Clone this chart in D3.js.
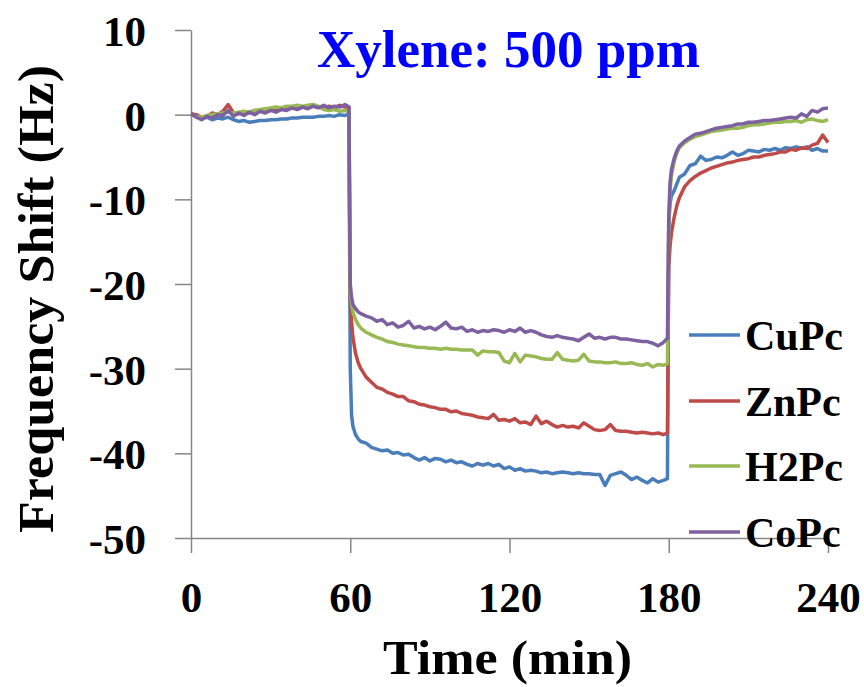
<!DOCTYPE html>
<html>
<head>
<meta charset="utf-8">
<script src="https://cdn.jsdelivr.net/npm/d3@7"></script>
<style>
  html, body { margin: 0; padding: 0; background: #ffffff; }
  svg { display: block; }
  text { font-family: "Liberation Serif", "Times New Roman", serif; font-weight: bold; }
</style>
</head>
<body>
<svg id="chart" width="864" height="687"></svg>
<script>
// ---------------- DATA ----------------
const times = [
  0,2,4,6,8,10,12,14,16,18,20,22,24,26,28,30,32,34,36,38,40,42,44,46,48,50,52,54,56,58,59.5,
  60,60.5,61,62,63,64,66,68,70,72,74,76,78,80,82,84,86,88,90,92,94,96,98,100,102,104,106,108,110,
  112,114,116,118,120,122,124,126,128,130,132,134,136,138,140,142,144,146,148,150,152,154,156,158,
  160,162,164,166,168,170,172,174,176,178,179.5,
  180,180.5,181,182,183,184,186,188,190,192,194,196,198,200,202,204,206,208,210,212,214,216,218,220,
  222,224,226,228,230,232,234,236,238,240
];

const cuPc = [
  0.1,-0.2,-0.4,-0.3,-0.6,-0.4,-0.5,-0.3,-0.6,-0.8,-0.7,-0.9,-0.8,-0.7,-0.7,-0.6,-0.6,-0.5,-0.5,-0.4,-0.4,-0.3,-0.3,-0.3,-0.2,-0.2,-0.1,-0.2,0.0,-0.1,0.1,
  -30.0,-35.5,-36.8,-37.8,-38.3,-38.6,-38.8,-39.3,-39.5,-39.7,-39.6,-40.0,-39.9,-40.2,-40.1,-40.5,-40.8,-40.5,-40.9,-40.6,-40.7,-41.0,-40.8,-41.1,-41.0,-41.3,-41.5,-41.2,-41.4,
  -41.2,-41.5,-41.3,-41.8,-41.6,-42.0,-41.8,-42.1,-42.0,-42.1,-42.3,-42.2,-42.4,-42.3,-42.2,-42.3,-42.4,-42.3,-42.4,-42.4,-42.5,-42.5,-43.8,-42.6,
  -42.4,-42.2,-42.6,-43.1,-42.8,-43.2,-43.5,-43.0,-43.4,-43.2,-43.0,
  -13.0,-10.5,-9.6,-9.0,-8.2,-7.4,-7.0,-6.0,-5.8,-4.9,-5.4,-5.3,-5.0,-5.1,-4.8,-4.4,-4.8,-4.6,-4.2,-4.3,-4.4,-4.1,-4.2,-4.0,
  -4.2,-3.9,-4.0,-3.8,-4.0,-3.8,-4.2,-4.0,-4.3,-4.3
];

const znPc = [
  0.1,0.0,-0.3,-0.2,0.2,0.0,0.4,1.2,0.2,0.1,0.3,0.2,0.5,0.4,0.3,0.6,0.5,0.7,0.6,0.8,0.7,0.9,0.8,1.0,0.9,0.8,1.0,0.8,1.1,0.9,0.9,
  -22.0,-24.5,-26.3,-28.2,-29.3,-30.0,-31.0,-31.6,-32.2,-32.4,-32.8,-33.0,-33.3,-33.3,-33.8,-33.9,-34.2,-34.3,-34.5,-34.6,-34.8,-34.8,-35.1,-35.0,-35.3,-35.4,-35.5,-35.7,-35.8,
  -35.9,-35.4,-36.1,-36.0,-36.2,-35.9,-36.4,-36.3,-36.6,-35.6,-36.5,-36.2,-36.6,-36.9,-36.7,-36.9,-36.8,-37.0,-36.4,-36.8,-37.2,-37.3,-37.2,-36.6,
  -37.3,-37.4,-37.4,-37.5,-37.6,-37.5,-37.6,-37.7,-37.6,-37.8,-37.6,
  -18.0,-15.5,-14.0,-12.2,-10.8,-9.8,-8.5,-7.8,-7.3,-6.9,-6.6,-6.3,-6.1,-5.9,-5.7,-5.6,-5.4,-5.3,-5.2,-5.0,-5.0,-4.8,-4.7,-4.6,
  -4.4,-4.4,-4.1,-4.2,-3.9,-4.0,-3.6,-3.4,-2.4,-3.3
];

const h2Pc = [
  0.0,-0.2,-0.3,-0.1,0.0,0.1,0.2,0.3,0.2,0.3,0.4,0.3,0.5,0.6,0.7,0.8,0.9,0.8,1.0,1.0,1.1,1.0,1.1,1.2,1.0,0.6,0.5,0.6,0.4,0.5,0.4,
  -21.0,-22.3,-23.3,-24.2,-24.8,-25.2,-25.7,-26.0,-26.3,-26.5,-26.8,-26.9,-27.1,-27.2,-27.3,-27.4,-27.5,-27.5,-27.6,-27.6,-27.7,-27.6,-27.7,-27.7,-27.8,-27.8,-27.8,-28.4,-27.9,
  -28.0,-28.0,-28.1,-29.1,-29.3,-28.2,-29.2,-28.4,-28.5,-28.6,-28.8,-28.9,-28.9,-28.1,-28.9,-29.0,-29.1,-29.0,-28.3,-29.1,-29.2,-29.2,-29.3,-29.3,
  -29.2,-29.4,-29.4,-29.3,-29.5,-29.6,-29.4,-29.8,-29.5,-29.6,-29.4,
  -13.0,-9.0,-7.2,-5.6,-4.6,-3.9,-3.3,-2.9,-2.6,-2.4,-2.2,-2.0,-1.9,-1.8,-1.7,-1.6,-1.6,-1.5,-1.3,-1.2,-1.2,-1.1,-1.0,-0.9,
  -0.9,-0.8,-0.8,-0.7,-0.9,-0.6,-0.5,-0.7,-0.8,-0.6
];

const coPc = [
  0.1,-0.3,-0.6,-0.2,-0.4,0.0,-0.1,0.5,-0.2,0.2,-0.1,0.3,0.0,0.4,0.2,0.5,0.3,0.6,0.5,0.8,0.6,0.9,0.7,1.0,0.8,1.1,0.8,1.0,0.9,1.2,0.9,
  -20.0,-21.6,-22.4,-22.9,-23.3,-23.5,-23.8,-24.0,-24.4,-24.2,-24.8,-24.6,-25.1,-24.9,-24.4,-25.2,-25.0,-25.3,-25.1,-25.4,-25.0,-24.5,-25.2,-25.3,-25.1,-25.6,-25.4,-25.7,-25.5,
  -25.6,-25.4,-25.5,-25.7,-25.4,-25.6,-25.2,-25.7,-25.5,-25.7,-26.0,-26.2,-26.3,-26.1,-26.3,-26.4,-26.5,-26.7,-26.3,-25.9,-26.4,-26.3,-26.5,-26.3,
  -26.3,-26.5,-26.5,-26.6,-26.7,-26.8,-26.8,-27.0,-27.3,-26.9,-26.4,
  -12.0,-8.0,-6.5,-5.2,-4.3,-3.7,-3.1,-2.7,-2.3,-2.2,-2.0,-1.8,-1.6,-1.5,-1.4,-1.3,-1.1,-1.1,-0.9,-0.9,-0.8,-0.7,-0.7,-0.6,
  -0.5,-0.4,-0.3,-0.4,0.1,-0.2,0.5,0.3,0.7,0.8
];

const seriesNames = ["CuPc", "ZnPc", "H2Pc", "CoPc"];
const seriesColors = ["#4A7EBB", "#BE4B48", "#98B954", "#7D60A0"];
const xTicks = [0, 60, 120, 180, 240];
const yTicks = [10, 0, -10, -20, -30, -40, -50];
const titleText = "Xylene: 500 ppm";
const xTitle = "Time (min)";
const yTitle = "Frequency Shift (Hz)";

// ---------------- CHART ----------------
const svg = d3.select("#chart");
const x = d3.scaleLinear().domain([0, 240]).range([191, 828]);
const y = d3.scaleLinear().domain([-50, 10]).range([538, 30]);
const axisColor = "#868686";

// Y axis
const yAxis = svg.append("g").attr("transform", "translate(191,0)")
  .call(d3.axisLeft(y).tickValues(yTicks).tickSize(16).tickSizeOuter(0).tickFormat(d3.format("d")));
yAxis.select(".domain").attr("stroke", axisColor).attr("stroke-width", 1.5);
yAxis.selectAll(".tick line").attr("stroke", axisColor).attr("stroke-width", 1.5);
yAxis.selectAll(".tick text")
  .attr("x", -45).attr("dy", "0.36em")
  .attr("fill", "#000").attr("font-size", 43)
  .attr("font-family", "'Liberation Serif', 'Times New Roman', serif").attr("font-weight", "bold")
  .text(d => d < 0 ? "-" + Math.abs(d) : d);

// X axis
const xAxis = svg.append("g").attr("transform", "translate(0,538)")
  .call(d3.axisBottom(x).tickValues(xTicks).tickSize(15).tickSizeOuter(0));
xAxis.select(".domain").attr("stroke", axisColor).attr("stroke-width", 1.5);
xAxis.selectAll(".tick line").attr("stroke", axisColor).attr("stroke-width", 1.5);
xAxis.selectAll(".tick text")
  .attr("y", 74).attr("dy", 0)
  .attr("fill", "#000").attr("font-size", 43)
  .attr("font-family", "'Liberation Serif', 'Times New Roman', serif").attr("font-weight", "bold");

// Lines
const allSeries = [cuPc, znPc, h2Pc, coPc];
const line = d3.line().x((d, i) => x(times[i])).y(d => y(d));
svg.append("g").selectAll("path").data(allSeries).join("path")
  .attr("d", d => line(d))
  .attr("fill", "none")
  .attr("stroke", (d, i) => seriesColors[i])
  .attr("stroke-width", 3.5)
  .attr("stroke-linejoin", "round");

// Title
svg.append("text").attr("x", 508.5).attr("y", 67).attr("text-anchor", "middle")
  .attr("fill", "#0000FF").attr("font-size", 53)
  .attr("textLength", 383).attr("lengthAdjust", "spacingAndGlyphs")
  .text(titleText);

// Axis titles
svg.append("text").attr("x", 507.5).attr("y", 674).attr("text-anchor", "middle")
  .attr("fill", "#000").attr("font-size", 48)
  .attr("textLength", 249).attr("lengthAdjust", "spacingAndGlyphs")
  .text(xTitle);
svg.append("text").attr("transform", "translate(53,299) rotate(-90)").attr("text-anchor", "middle")
  .attr("fill", "#000").attr("font-size", 50)
  .attr("textLength", 468).attr("lengthAdjust", "spacingAndGlyphs")
  .text(yTitle);

// Legend
const legendY = [335, 401, 466, 532];
const legend = svg.append("g").selectAll("g").data(seriesNames).join("g")
  .attr("transform", (d, i) => `translate(0,${legendY[i]})`);
legend.append("line").attr("x1", 689).attr("x2", 740).attr("y1", 0).attr("y2", 0)
  .attr("stroke", (d, i) => seriesColors[i]).attr("stroke-width", 3.5);
legend.append("text").attr("x", 745).attr("y", 0).attr("dy", "0.35em")
  .attr("fill", "#000").attr("font-size", 42)
  .text(d => d);
</script>
</body>
</html>
